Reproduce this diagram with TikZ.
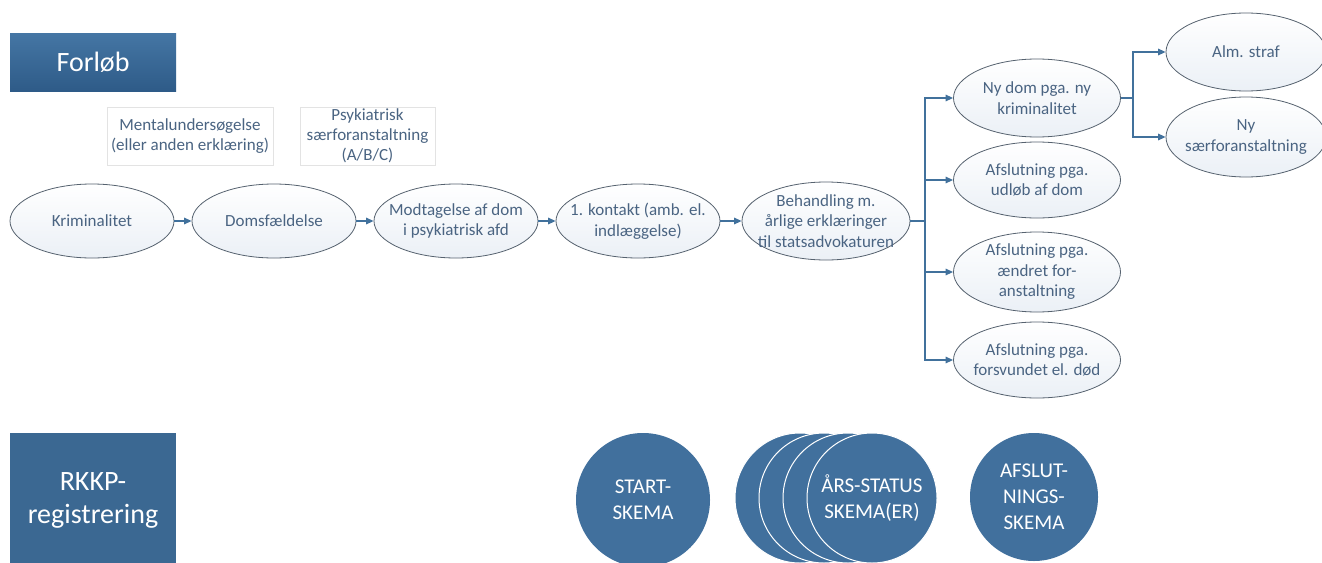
\documentclass[tikz,border=0pt]{standalone}
\usepackage{fontspec}
\setmainfont{Carlito}
\usetikzlibrary{shapes.geometric,arrows.meta}
\definecolor{txtc}{HTML}{4A6482}
\definecolor{edgec}{HTML}{56626F}
\definecolor{arrc}{HTML}{41719C}
\definecolor{darkc}{HTML}{3B6892}
\definecolor{circc}{HTML}{41709D}
\definecolor{boxline}{HTML}{E3E3E3}
\definecolor{ellb}{HTML}{EBF0F6}
\definecolor{hdrtop}{HTML}{4576A4}
\definecolor{hdrbot}{HTML}{2E5B88}
\tikzset{
  ell/.style={draw=edgec, line width=0.8pt, ellipse, inner sep=0pt, top color=white, bottom color=ellb, minimum width=164, minimum height=74},
  et/.style={text=txtc, font=\fontsize{17}{20.5}\selectfont, align=center, inner sep=0pt},
  conn/.style={draw=arrc, line width=1.3pt, -{Triangle[length=7.5pt,width=6.5pt]}},
  seg/.style={draw=arrc, line width=1.3pt},
  hdr/.style={text=white, font=\fontsize{28}{33}\selectfont, align=center, minimum width=166, inner sep=0pt},
  notebox/.style={draw=boxline, line width=0.8pt, text=txtc, font=\fontsize{17}{20}\selectfont, align=center, minimum height=58, inner sep=0pt},
  disc/.style={circle, fill=circc, text=white, font=\fontsize{21}{26}\selectfont, align=center, inner sep=0pt},
}
\begin{document}
\begin{tikzpicture}[x=1pt,y=-1pt]
\useasboundingbox (0,0) rectangle (1322,562);
\clip (0,0) rectangle (1322,562);
\fill[white] (0,0) rectangle (1322,562);

% header boxes
\node[hdr, minimum height=58, top color=hdrtop, bottom color=hdrbot] (forlob) at (93,62) {Forløb};
\node[hdr, minimum height=134, fill=darkc] (rkkp) at (93,500) {RKKP-\\registrering};

% note boxes
\node[notebox, minimum width=166] (mental) at (190,136) {Mentalundersøgelse\\(eller anden erklæring)};
\node[notebox, minimum width=135] (psyk) at (367.5,136) {Psykiatrisk\\særforanstaltning\\(A/B/C)};

% main row
\node[ell, label={[et]center:Kriminalitet}] (krim) at (92,221) {};
\node[ell, label={[et]center:Domsfældelse}] (doms) at (274,221) {};
\node[ell, label={[et]center:{Modtagelse af dom\\i psykiatrisk afd}}] (modt) at (456,221) {};
\node[ell, label={[et]center:{1. kontakt (amb. el.\\indlæggelse)}}] (kont) at (638,221) {};
\node[ell, minimum width=168, minimum height=78, label={[et]center:{Behandling m.\\årlige erklæringer\\til statsadvokaturen}}] (beh) at (826,221) {};

% outcomes
\node[ell, minimum width=167, minimum height=78, label={[et]center:{Ny dom pga. ny\\kriminalitet}}] (ny) at (1037,98) {};
\node[ell, minimum width=167, minimum height=76, label={[et]center:{Afslutning pga.\\udløb af dom}}] (udl) at (1037,180) {};
\node[ell, minimum width=167, minimum height=80, label={[et]center:{Afslutning pga.\\ændret for-\\anstaltning}}] (aen) at (1037,272) {};
\node[ell, minimum width=167, minimum height=76, label={[et]center:{Afslutning pga.\\forsvundet el. død}}] (forsv) at (1037,360) {};

\node[ell, minimum width=160, minimum height=78, label={[et]center:{Alm. straf}}] (alm) at (1246,52) {};
\node[ell, minimum width=160, minimum height=80, label={[et]center:{Ny\\særforanstaltning}}] (nys) at (1246,137) {};

% connectors
\draw[conn] (krim) -- (doms);
\draw[conn] (doms) -- (modt);
\draw[conn] (modt) -- (kont);
\draw[conn] (kont) -- (beh);

\coordinate (b1) at (925,221);
\draw[seg] (beh.east) -- (b1);
\draw[conn] (b1) |- (ny.west);
\draw[conn] (b1) |- (udl.west);
\draw[conn] (b1) |- (aen.west);
\draw[conn] (b1) |- (forsv.west);

\coordinate (b2) at (1133,98);
\draw[seg] (ny.east) -- (b2);
\draw[conn] (b2) |- (alm.west);
\draw[conn] (b2) |- (nys.west);

% registration discs
\node[disc, minimum size=134] (start) at (643,500) {START-\\SKEMA};
\node[disc, minimum size=130, draw=white, line width=1pt] (ar1) at (800,498) {};
\node[disc, minimum size=130, draw=white, line width=1pt] (ar2) at (824,498) {};
\node[disc, minimum size=130, draw=white, line width=1pt] (ar3) at (848,498) {};
\node[disc, minimum size=130, draw=white, line width=1pt] (ar4) at (872,498) {ÅRS-STATUS\\SKEMA(ER)};
\node[disc, minimum size=128] (afsl) at (1034,497) {AFSLUT-\\NINGS-\\SKEMA};
\end{tikzpicture}
\end{document}
